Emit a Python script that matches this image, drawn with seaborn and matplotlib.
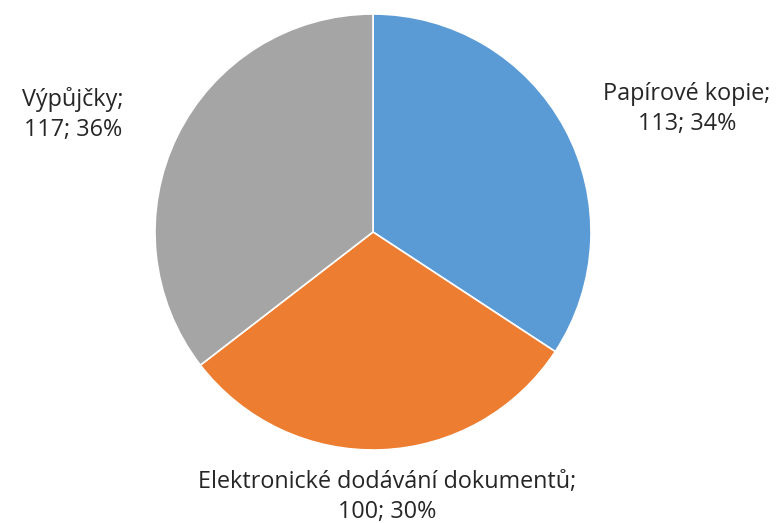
import matplotlib
matplotlib.use("Agg")
import matplotlib.pyplot as plt
import seaborn as sns

categories = ["Papírové kopie", "Elektronické dodávání dokumentů", "Výpůjčky"]
values = [113, 100, 117]
percents = ["34%", "30%", "36%"]
colors = ["#5B9BD5", "#ED7D31", "#A5A5A5"]

sns.set_theme(style="white")
plt.rcParams['font.family'] = ['Open Sans', 'DejaVu Sans']

fig = plt.figure(figsize=(7.76, 5.23), dpi=100)
ax = fig.add_axes([0, 0, 1, 1])
cx, cy, r = 373, 291, 218  # pixel centre (from bottom) and radius
ax.pie(values, colors=colors, startangle=90, counterclock=False,
       radius=1, center=(0, 0), wedgeprops=dict(edgecolor="white", linewidth=1.2))
ax.set_aspect('auto')
ax.set_xlim(-cx / r, (776 - cx) / r)
ax.set_ylim(-cy / r, (523 - cy) / r)
ax.axis('off')

label_pos = [(1.44, 0.564), (0.064, -1.216), (-1.376, 0.541)]
for cat, v, p, (x, y) in zip(categories, values, percents, label_pos):
    ax.text(x, y, f"{cat};\n{v}; {p}", ha='center', va='center', fontsize=16.8,
            color="#262626", linespacing=1.33)

fig.savefig("out.png", dpi=100)
